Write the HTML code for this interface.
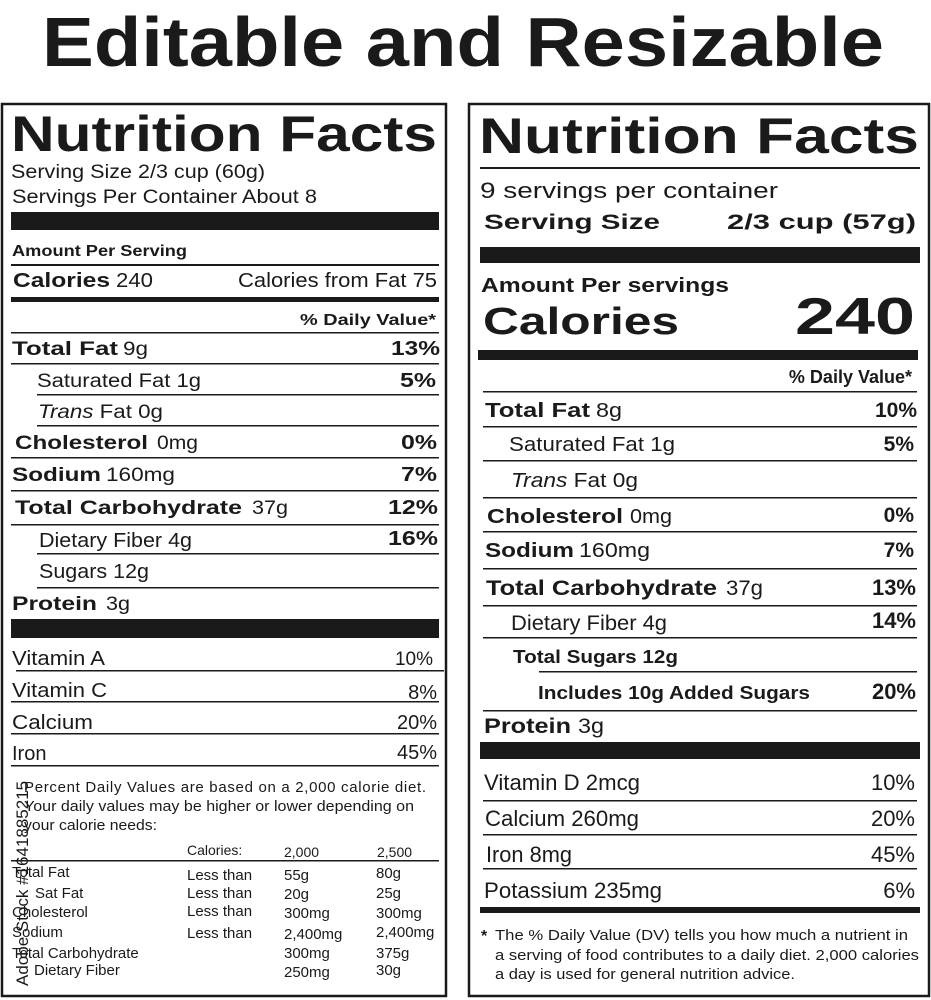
<!DOCTYPE html>
<html><head><meta charset="utf-8"><style>
html,body{margin:0;padding:0;background:#fff;width:931px;height:1000px;overflow:hidden}
svg{display:block}
text{font-family:"Liberation Sans",Arial,sans-serif;fill:#1a1a1a}
.b{font-weight:bold}
</style></head><body>
<svg width="931" height="1000" viewBox="0 0 931 1000" xmlns="http://www.w3.org/2000/svg">
<text x="42" y="66" class="b" font-size="70" textLength="842" lengthAdjust="spacingAndGlyphs">Editable and Resizable</text>

<!-- LEFT PANEL -->
<rect x="2" y="104" width="444" height="892" fill="none" stroke="#1a1a1a" stroke-width="2.5"/>
<text x="11" y="151" class="b" font-size="50" textLength="426" lengthAdjust="spacingAndGlyphs">Nutrition Facts</text>
<text x="11" y="178" font-size="19" textLength="254" lengthAdjust="spacingAndGlyphs">Serving Size 2/3 cup (60g)</text>
<text x="12" y="203" font-size="19" textLength="305" lengthAdjust="spacingAndGlyphs">Servings Per Container About 8</text>
<rect x="11" y="212" width="428" height="18" fill="#1a1a1a"/>
<text x="12" y="256" class="b" font-size="16" textLength="175" lengthAdjust="spacingAndGlyphs">Amount Per Serving</text>
<rect x="11" y="264" width="428" height="2" fill="#1a1a1a"/>
<text x="13" y="287" class="b" font-size="20" textLength="97" lengthAdjust="spacingAndGlyphs">Calories</text>
<text x="116" y="287" font-size="20" textLength="37" lengthAdjust="spacingAndGlyphs">240</text>
<text x="437" y="287" font-size="20" text-anchor="end" textLength="199" lengthAdjust="spacingAndGlyphs">Calories from Fat 75</text>
<rect x="11" y="297" width="428" height="5" fill="#1a1a1a"/>
<text x="436" y="325" class="b" font-size="16" text-anchor="end" textLength="136" lengthAdjust="spacingAndGlyphs">% Daily Value*</text>
<rect x="11" y="332" width="428" height="1.5" fill="#1a1a1a"/>
<text x="12" y="355" class="b" font-size="19" textLength="106" lengthAdjust="spacingAndGlyphs">Total Fat</text>
<text x="123" y="355" font-size="19" textLength="25" lengthAdjust="spacingAndGlyphs">9g</text>
<text x="440" y="355" class="b" font-size="20" text-anchor="end" textLength="49" lengthAdjust="spacingAndGlyphs">13%</text>
<rect x="11" y="363" width="428" height="1.5" fill="#1a1a1a"/>
<text x="37" y="387" font-size="19" textLength="164" lengthAdjust="spacingAndGlyphs">Saturated Fat 1g</text>
<text x="436" y="387" class="b" font-size="20" text-anchor="end" textLength="36" lengthAdjust="spacingAndGlyphs">5%</text>
<rect x="37" y="394" width="402" height="1.5" fill="#1a1a1a"/>
<text x="38" y="418" font-size="19" textLength="125" lengthAdjust="spacingAndGlyphs"><tspan font-style="italic">Trans</tspan> Fat 0g</text>
<rect x="37" y="425" width="402" height="1.5" fill="#1a1a1a"/>
<text x="15" y="449" class="b" font-size="19" textLength="133" lengthAdjust="spacingAndGlyphs">Cholesterol</text>
<text x="157" y="449" font-size="19" textLength="41" lengthAdjust="spacingAndGlyphs">0mg</text>
<text x="437" y="449" class="b" font-size="20" text-anchor="end" textLength="36" lengthAdjust="spacingAndGlyphs">0%</text>
<rect x="11" y="457" width="428" height="1.5" fill="#1a1a1a"/>
<text x="12" y="481" class="b" font-size="19" textLength="89" lengthAdjust="spacingAndGlyphs">Sodium</text>
<text x="106" y="481" font-size="19" textLength="69" lengthAdjust="spacingAndGlyphs">160mg</text>
<text x="437" y="481" class="b" font-size="20" text-anchor="end" textLength="36" lengthAdjust="spacingAndGlyphs">7%</text>
<rect x="11" y="490" width="428" height="1.5" fill="#1a1a1a"/>
<text x="15" y="514" class="b" font-size="19" textLength="227" lengthAdjust="spacingAndGlyphs">Total Carbohydrate</text>
<text x="252" y="514" font-size="19" textLength="36" lengthAdjust="spacingAndGlyphs">37g</text>
<text x="438" y="514" class="b" font-size="20" text-anchor="end" textLength="50" lengthAdjust="spacingAndGlyphs">12%</text>
<rect x="11" y="524" width="428" height="1.5" fill="#1a1a1a"/>
<text x="39" y="547" font-size="20" textLength="153" lengthAdjust="spacingAndGlyphs">Dietary Fiber 4g</text>
<text x="438" y="545" class="b" font-size="20" text-anchor="end" textLength="50" lengthAdjust="spacingAndGlyphs">16%</text>
<rect x="37" y="553" width="402" height="1.5" fill="#1a1a1a"/>
<text x="39" y="578" font-size="20" textLength="110" lengthAdjust="spacingAndGlyphs">Sugars 12g</text>
<rect x="37" y="587" width="402" height="1.5" fill="#1a1a1a"/>
<text x="12" y="610" class="b" font-size="19" textLength="85" lengthAdjust="spacingAndGlyphs">Protein</text>
<text x="106" y="610" font-size="19" textLength="24" lengthAdjust="spacingAndGlyphs">3g</text>
<rect x="11" y="619" width="428" height="19" fill="#1a1a1a"/>
<text x="12" y="665" font-size="20" textLength="93" lengthAdjust="spacingAndGlyphs">Vitamin A</text>
<text x="433" y="665" font-size="19" text-anchor="end">10%</text>
<rect x="16" y="670" width="428" height="1.5" fill="#1a1a1a"/>
<text x="12" y="697" font-size="20" textLength="95" lengthAdjust="spacingAndGlyphs">Vitamin C</text>
<text x="437" y="699" font-size="20" text-anchor="end">8%</text>
<rect x="11" y="701" width="428" height="1.5" fill="#1a1a1a"/>
<text x="12" y="729" font-size="20" textLength="81" lengthAdjust="spacingAndGlyphs">Calcium</text>
<text x="437" y="729" font-size="20" text-anchor="end">20%</text>
<rect x="11" y="733" width="428" height="1.5" fill="#1a1a1a"/>
<text x="12" y="760" font-size="20">Iron</text>
<text x="437" y="759" font-size="20" text-anchor="end">45%</text>
<rect x="11" y="765" width="428" height="1.5" fill="#1a1a1a"/>
<text x="24" y="792" font-size="15" textLength="402" lengthAdjust="spacing">Percent Daily Values are based on a 2,000 calorie diet.</text>
<text x="24" y="811" font-size="15" textLength="390" lengthAdjust="spacingAndGlyphs">Your daily values may be higher or lower depending on</text>
<text x="24" y="830" font-size="15" textLength="133" lengthAdjust="spacingAndGlyphs">your calorie needs:</text>
<g font-size="14">
<text x="187" y="855">Calories:</text><text x="284" y="857">2,000</text><text x="377" y="857">2,500</text>
</g>
<rect x="11" y="860" width="428" height="1.5" fill="#1a1a1a"/>
<g font-size="15">
<text x="12" y="877">Total Fat</text><text x="187" y="880">Less than</text><text x="284" y="880">55g</text><text x="376" y="878">80g</text>
<text x="35" y="898">Sat Fat</text><text x="187" y="898">Less than</text><text x="284" y="899">20g</text><text x="376" y="898">25g</text>
<text x="12" y="917">Cholesterol</text><text x="187" y="916">Less than</text><text x="284" y="918">300mg</text><text x="376" y="918">300mg</text>
<text x="12" y="937">Sodium</text><text x="187" y="938">Less than</text><text x="284" y="939">2,400mg</text><text x="376" y="937">2,400mg</text>
<text x="12" y="958">Total Carbohydrate</text><text x="284" y="958">300mg</text><text x="376" y="958">375g</text>
<text x="34" y="975">Dietary Fiber</text><text x="284" y="977">250mg</text><text x="376" y="975">30g</text>
</g>
<text transform="translate(28,986) rotate(-90)" font-size="17" fill="#333">Adobe Stock #1641885215</text>

<!-- RIGHT PANEL -->
<rect x="469" y="104" width="460" height="892" fill="none" stroke="#1a1a1a" stroke-width="2.5"/>
<text x="479" y="153" class="b" font-size="50" textLength="440" lengthAdjust="spacingAndGlyphs">Nutrition Facts</text>
<rect x="480" y="167" width="440" height="2" fill="#1a1a1a"/>
<text x="480" y="198" font-size="22" textLength="298" lengthAdjust="spacingAndGlyphs">9 servings per container</text>
<text x="484" y="229" class="b" font-size="21" textLength="176" lengthAdjust="spacingAndGlyphs">Serving Size</text>
<text x="916" y="229" class="b" font-size="21" text-anchor="end" textLength="189" lengthAdjust="spacingAndGlyphs">2/3 cup (57g)</text>
<rect x="480" y="247" width="440" height="16" fill="#1a1a1a"/>
<text x="481" y="292" class="b" font-size="20" textLength="248" lengthAdjust="spacingAndGlyphs">Amount Per servings</text>
<text x="483" y="334" class="b" font-size="38" textLength="196" lengthAdjust="spacingAndGlyphs">Calories</text>
<text x="915" y="334" class="b" font-size="52" text-anchor="end" textLength="120" lengthAdjust="spacingAndGlyphs">240</text>
<rect x="478" y="350" width="440" height="10" fill="#1a1a1a"/>
<text x="912" y="383" class="b" font-size="18" text-anchor="end">% Daily Value*</text>
<rect x="483" y="391" width="434" height="1.5" fill="#1a1a1a"/>
<text x="485" y="417" class="b" font-size="20" textLength="105" lengthAdjust="spacingAndGlyphs">Total Fat</text>
<text x="596" y="417" font-size="20" textLength="26" lengthAdjust="spacingAndGlyphs">8g</text>
<text x="917" y="417" class="b" font-size="21" text-anchor="end">10%</text>
<rect x="483" y="426" width="434" height="1.5" fill="#1a1a1a"/>
<text x="509" y="451" font-size="20" textLength="166" lengthAdjust="spacingAndGlyphs">Saturated Fat 1g</text>
<text x="914" y="451" class="b" font-size="21" text-anchor="end">5%</text>
<rect x="483" y="460" width="434" height="1.5" fill="#1a1a1a"/>
<text x="511" y="487" font-size="20" textLength="127" lengthAdjust="spacingAndGlyphs"><tspan font-style="italic">Trans</tspan> Fat 0g</text>
<rect x="483" y="497" width="434" height="1.5" fill="#1a1a1a"/>
<text x="487" y="523" class="b" font-size="20" textLength="136" lengthAdjust="spacingAndGlyphs">Cholesterol</text>
<text x="630" y="523" font-size="20" textLength="42" lengthAdjust="spacingAndGlyphs">0mg</text>
<text x="914" y="522" class="b" font-size="21" text-anchor="end">0%</text>
<rect x="483" y="531" width="434" height="1.5" fill="#1a1a1a"/>
<text x="485" y="557" class="b" font-size="20" textLength="89" lengthAdjust="spacingAndGlyphs">Sodium</text>
<text x="579" y="557" font-size="20" textLength="71" lengthAdjust="spacingAndGlyphs">160mg</text>
<text x="914" y="557" class="b" font-size="21" text-anchor="end">7%</text>
<rect x="483" y="568" width="434" height="1.5" fill="#1a1a1a"/>
<text x="486" y="595" class="b" font-size="21" textLength="231" lengthAdjust="spacingAndGlyphs">Total Carbohydrate</text>
<text x="726" y="595" font-size="21" textLength="37" lengthAdjust="spacingAndGlyphs">37g</text>
<text x="916" y="595" class="b" font-size="22" text-anchor="end">13%</text>
<rect x="483" y="605" width="434" height="1.5" fill="#1a1a1a"/>
<text x="511" y="630" font-size="21" textLength="156" lengthAdjust="spacingAndGlyphs">Dietary Fiber 4g</text>
<text x="916" y="628" class="b" font-size="22" text-anchor="end">14%</text>
<rect x="483" y="637" width="434" height="1.5" fill="#1a1a1a"/>
<text x="513" y="663" class="b" font-size="18" textLength="165" lengthAdjust="spacingAndGlyphs">Total Sugars 12g</text>
<rect x="539" y="671" width="378" height="1.5" fill="#1a1a1a"/>
<text x="538" y="699" class="b" font-size="18" textLength="272" lengthAdjust="spacingAndGlyphs">Includes 10g Added Sugars</text>
<text x="916" y="699" class="b" font-size="22" text-anchor="end">20%</text>
<rect x="483" y="710" width="434" height="1.5" fill="#1a1a1a"/>
<text x="484" y="733" class="b" font-size="21" textLength="87" lengthAdjust="spacingAndGlyphs">Protein</text>
<text x="578" y="733" font-size="21" textLength="26" lengthAdjust="spacingAndGlyphs">3g</text>
<rect x="480" y="742" width="440" height="17" fill="#1a1a1a"/>
<text x="484" y="790" font-size="22" textLength="156" lengthAdjust="spacingAndGlyphs">Vitamin D 2mcg</text>
<text x="915" y="790" font-size="22" text-anchor="end">10%</text>
<rect x="483" y="800" width="434" height="1.5" fill="#1a1a1a"/>
<text x="485" y="826" font-size="22" textLength="154" lengthAdjust="spacingAndGlyphs">Calcium 260mg</text>
<text x="915" y="826" font-size="22" text-anchor="end">20%</text>
<rect x="483" y="834" width="434" height="1.5" fill="#1a1a1a"/>
<text x="486" y="862" font-size="22" textLength="86" lengthAdjust="spacingAndGlyphs">Iron 8mg</text>
<text x="915" y="862" font-size="22" text-anchor="end">45%</text>
<rect x="483" y="868" width="434" height="1.5" fill="#1a1a1a"/>
<text x="484" y="898" font-size="22" textLength="178" lengthAdjust="spacingAndGlyphs">Potassium 235mg</text>
<text x="915" y="898" font-size="22" text-anchor="end">6%</text>
<rect x="480" y="907" width="440" height="6" fill="#1a1a1a"/>
<text x="481" y="941" class="b" font-size="16">*</text>
<text x="495" y="940" font-size="15" textLength="413" lengthAdjust="spacingAndGlyphs">The % Daily Value  (DV) tells you how much a nutrient in</text>
<text x="495" y="960" font-size="15" textLength="424" lengthAdjust="spacingAndGlyphs">a serving of food contributes to a daily diet. 2,000 calories</text>
<text x="495" y="979" font-size="15" textLength="300" lengthAdjust="spacingAndGlyphs">a day is used for general nutrition advice.</text>
</svg>
</body></html>
